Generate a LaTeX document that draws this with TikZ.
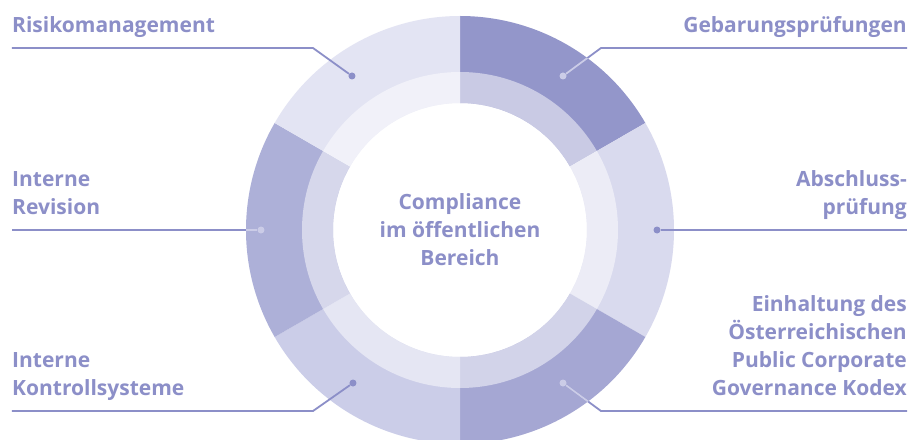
\documentclass[tikz,border=0pt]{standalone}
\usepackage{fontspec}
\setmainfont{Open Sans}
\usetikzlibrary{positioning}

\definecolor{txtblue}{HTML}{8C8FC8}
\definecolor{lightline}{HTML}{CBCCE7}
\definecolor{segGeb}{HTML}{9396CA}
\definecolor{segAbs}{HTML}{D9DAEE}
\definecolor{segEin}{HTML}{A5A7D3}
\definecolor{segIks}{HTML}{CBCDE8}
\definecolor{segRev}{HTML}{ADB0D8}
\definecolor{segRis}{HTML}{E3E4F3}

\tikzset{
  lbl/.style={inner sep=0pt, text depth=0pt, text=txtblue,
    font=\fontsize{21}{28}\selectfont\bfseries},
  pindot/.style={circle, fill=txtblue, minimum size=7pt, inner sep=0pt},
  lightdot/.style={pindot, fill=lightline},
  conn/.style={draw=txtblue, line width=1.8pt},
}

\begin{document}
\begin{tikzpicture}[x=1pt,y=1pt]
    \useasboundingbox (-460,-209) rectangle (463,230);
    \fill[white] (-460,-209) rectangle (463,230);

    % ring segments
    \foreach \a/\b/\c in {30/90/segGeb, -30/30/segAbs, -90/-30/segEin,
                          -150/-90/segIks, 150/210/segRev, 90/150/segRis}
    \fill[\c] (\a:127) -- (\a:214) arc[start angle=\a, end angle=\b, radius=214]
        -- (\b:127) arc[start angle=\b, end angle=\a, radius=127] -- cycle;
    \fill[white, opacity=0.5, even odd rule] (0,0) circle (158) (0,0) circle (127);

    \node[lbl, align=center] (title) at (0,0) {Compliance\\im öffentlichen\\Bereich};

    % pins
    \node[pindot] (dot 1) at (-108,154) {};
    \node[lightdot] (dot 2) at (103,154) {};
    \node[lightdot] (dot 3) at (-199,0) {};
    \node[pindot] (dot 4) at (197,0) {};
    \node[pindot] (dot 5) at (-107,-153) {};
    \node[lightdot] (dot 6) at (103,-153) {};

    \coordinate (bend 1) at (-147,182);
    \coordinate (bend 2) at (141,182);
    \coordinate (bend 5) at (-147,-181);
    \coordinate (bend 6) at (141,-181);

    \coordinate (end 1) at (-448,182);
    \coordinate (end 2) at (447,182);
    \coordinate (end 3) at (-448,0);
    \coordinate (end 4) at (447,0);
    \coordinate (end 5) at (-448,-181);
    \coordinate (end 6) at (447,-181);

    \draw[conn] (dot 1) -- (bend 1) -- (end 1);
    \draw[conn] (dot 2) -- (bend 2) -- (end 2);
    \draw[conn] (dot 3) -- (end 3);
    \draw[conn] (dot 4) -- (end 4);
    \draw[conn] (dot 5) -- (bend 5) -- (end 5);
    \draw[conn] (dot 6) -- (bend 6) -- (end 6);

    % light part inside the ring
    \begin{scope}
        \clip (0,0) circle (214);
        \draw[conn, draw=lightline] (dot 2) -- (bend 2);
        \draw[conn, draw=lightline] (dot 3) -- (end 3);
        \draw[conn, draw=lightline] (dot 6) -- (bend 6);
    \end{scope}

    % labels
    \node[lbl, align=left, above right=15pt and 0pt of end 1] (txt 1) {Risikomanagement};
    \node[lbl, align=right, above left=15pt and 0pt of end 2] (txt 2) {Gebarungsprüfungen};
    \node[lbl, align=left, above right=15pt and 0pt of end 3] (txt 3) {Interne\\Revision};
    \node[lbl, align=right, above left=15pt and 0pt of end 4] (txt 4) {Abschluss-\\prüfung};
    \node[lbl, align=left, above right=15pt and 0pt of end 5] (txt 5) {Interne\\Kontrollsysteme};
    \node[lbl, align=right, above left=15pt and 0pt of end 6] (txt 6)
        {Einhaltung des\\Österreichischen\\Public Corporate\\Governance Kodex};
\end{tikzpicture}
\end{document}
